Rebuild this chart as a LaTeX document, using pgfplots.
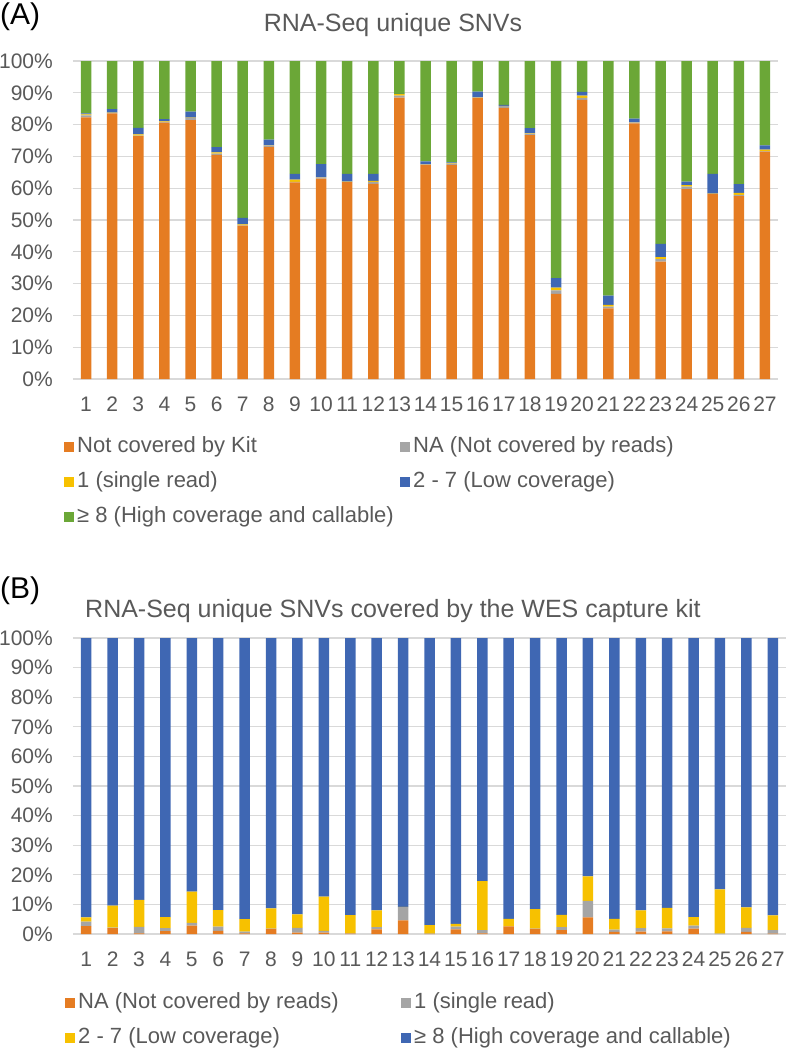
\documentclass[border=0pt]{standalone}
\usepackage{fontspec}
\setmainfont{Liberation Sans}
\usepackage{pgfplots}
\usepackage{pgfplotstable}
\pgfplotsset{compat=1.18}

\definecolor{cOrange}{HTML}{E57C22}
\definecolor{cGray}{HTML}{A5A5A5}
\definecolor{cYellow}{HTML}{F7C100}
\definecolor{cBlue}{HTML}{3F67B3}
\definecolor{cGreen}{HTML}{6BA737}
\definecolor{gridc}{HTML}{D9D9D9}
\definecolor{txt}{HTML}{595959}

% panel A: share of RNA-Seq unique SNVs (%)
\pgfplotstableread{
x kit na one low high
1 82.3 0.6 0.3 0.3 16.5
2 83.5 0.2 0.1 1.1 15.1
3 76.4 0.1 0.4 2.1 21.0
4 80.6 0.2 0.2 0.7 18.3
5 81.4 0.6 0.2 1.9 15.9
6 70.5 0.4 0.4 1.6 27.1
7 48.2 0.1 0.3 2.1 49.3
8 73.0 0.4 0.1 1.8 24.7
9 61.8 0.2 0.7 1.8 35.5
10 63.0 0.4 0.1 4.1 32.4
11 61.9 0.1 0.1 2.4 35.5
12 61.4 0.6 0.3 2.2 35.5
13 88.5 0.6 0.5 0.1 10.3
14 67.3 0.1 0.1 0.9 31.6
15 67.3 0.4 0.2 0.2 31.9
16 88.4 0.1 0.1 1.8 9.6
17 85.3 0.5 0.1 0.3 13.8
18 76.7 0.5 0.1 1.6 21.1
19 26.8 1.1 0.8 3.0 68.3
20 87.8 0.6 0.7 1.2 9.7
21 22.2 0.6 0.5 2.9 73.8
22 80.4 0.3 0.1 1.1 18.1
23 36.9 0.8 0.6 4.2 57.5
24 59.7 0.8 0.5 1.1 37.9
25 58.2 0.05 0.05 6.2 35.5
26 57.5 0.4 0.6 2.8 38.7
27 71.5 0.2 0.4 1.4 26.5
}\tabA

% panel B: SNVs covered by the WES capture kit (%)
\pgfplotstableread{
x na one low high
1 2.7 1.5 1.4 94.4
2 2.0 0.2 7.4 90.4
3 0.2 2.2 9.1 88.5
4 1.0 1.0 3.7 94.3
5 2.8 1.0 10.5 85.7
6 1.1 1.4 5.6 91.9
7 0.2 0.6 4.2 95.0
8 1.7 0.1 6.9 91.3
9 0.5 1.6 4.5 93.4
10 0.5 0.6 11.5 87.4
11 0.1 0.1 6.2 93.6
12 1.6 0.7 5.7 92.0
13 4.6 4.5 0.1 90.8
14 0.05 0.05 2.9 97.0
15 1.6 0.9 0.9 96.6
16 0.2 1.1 16.6 82.1
17 2.6 0.0 2.5 94.9
18 1.7 0.1 6.6 91.6
19 1.3 1.0 4.2 93.5
20 5.6 5.6 8.3 80.5
21 0.7 0.8 3.6 94.9
22 0.8 1.2 6.0 92.0
23 0.9 1.0 6.9 91.2
24 1.8 1.0 2.9 94.3
25 0.0 0.1 15.0 84.9
26 0.7 1.4 6.9 91.0
27 0.1 1.2 5.0 93.7
}\tabB

\pgfplotsset{
  xlsbar/.style={
    ybar stacked, bar width=10.5pt, scale only axis,
    xmin=0.5, xmax=27.5, ymin=0, ymax=100,
    xtick={1,...,27},
    xticklabels={1,2,3,4,5,6,7,8,9,10,11,12,13,14,15,16,17,18,19,20,21,22,23,24,25,26,27},
    ytick={0,10,...,100},
    yticklabels={0\%,10\%,20\%,30\%,40\%,50\%,60\%,70\%,80\%,90\%,100\%},
    ymajorgrids, grid style={color=gridc, line width=1.2pt},
    axis line style={draw=none}, major tick length=0pt,
    tick label style={font=\fontsize{21}{25}\selectfont, text=txt},
    xticklabel style={anchor=center, inner sep=0pt, yshift=-25pt},
    yticklabel style={anchor=east, inner sep=0pt, xshift=-20pt},
    legend columns=2, legend cell align=left,
    legend style={draw=none, fill=none, inner sep=0pt, column sep=0pt, row sep=14pt,
      font=\fontsize{22}{26}\selectfont, text=txt,
      nodes={inner xsep=3pt, inner ysep=0pt, text height=16pt, text depth=5pt},
      at={(0,0)}, anchor=north west},
    legend image code/.code={\fill[##1,draw=none] (0pt,-5pt) rectangle (10pt,5pt);},
    every axis plot/.append style={draw=none},
  }
}

\begin{document}
\begin{tikzpicture}
\path[use as bounding box] (0pt,0pt) rectangle (786pt,-1050pt);

\node[anchor=base west, inner sep=0pt, font=\fontsize{30}{36}\selectfont] at (0pt,-24pt) {(A)};
\node[anchor=base, inner sep=0pt, font=\fontsize{25}{30}\selectfont, text=txt] at (393pt,-31.5pt) {RNA-Seq unique SNVs};

\begin{axis}[xlsbar, at={(73pt,-379pt)}, anchor=south west, width=705pt, height=318pt,
  legend style={xshift=-9pt, yshift=-57pt}]
\addplot[fill=cOrange] table[x=x, y=kit] {\tabA};
\addlegendentry{\makebox[320pt][l]{Not covered by Kit}}
\addplot[fill=cGray] table[x=x, y=na] {\tabA};
\addlegendentry{NA (Not covered by reads)}
\addplot[fill=cYellow] table[x=x, y=one] {\tabA};
\addlegendentry{\makebox[320pt][l]{1 (single read)}}
\addplot[fill=cBlue] table[x=x, y=low] {\tabA};
\addlegendentry{2 - 7 (Low coverage)}
\addplot[fill=cGreen] table[x=x, y=high] {\tabA};
\addlegendentry{\makebox[320pt][l]{≥ 8 (High coverage and callable)}}
\end{axis}

\node[anchor=base west, inner sep=0pt, font=\fontsize{30}{36}\selectfont] at (0pt,-598pt) {(B)};
\node[anchor=base, inner sep=0pt, font=\fontsize{25}{30}\selectfont, text=txt] at (393pt,-617pt) {RNA-Seq unique SNVs covered by the WES capture kit};

\begin{axis}[xlsbar, at={(73pt,-934pt)}, anchor=south west, width=713pt, height=296pt,
  legend style={xshift=-8pt, yshift=-58.5pt}]
\addplot[fill=cOrange] table[x=x, y=na] {\tabB};
\addlegendentry{\makebox[320pt][l]{NA (Not covered by reads)}}
\addplot[fill=cGray] table[x=x, y=one] {\tabB};
\addlegendentry{1 (single read)}
\addplot[fill=cYellow] table[x=x, y=low] {\tabB};
\addlegendentry{\makebox[320pt][l]{2 - 7 (Low coverage)}}
\addplot[fill=cBlue] table[x=x, y=high] {\tabB};
\addlegendentry{≥ 8 (High coverage and callable)}
\end{axis}
\end{tikzpicture}
\end{document}
